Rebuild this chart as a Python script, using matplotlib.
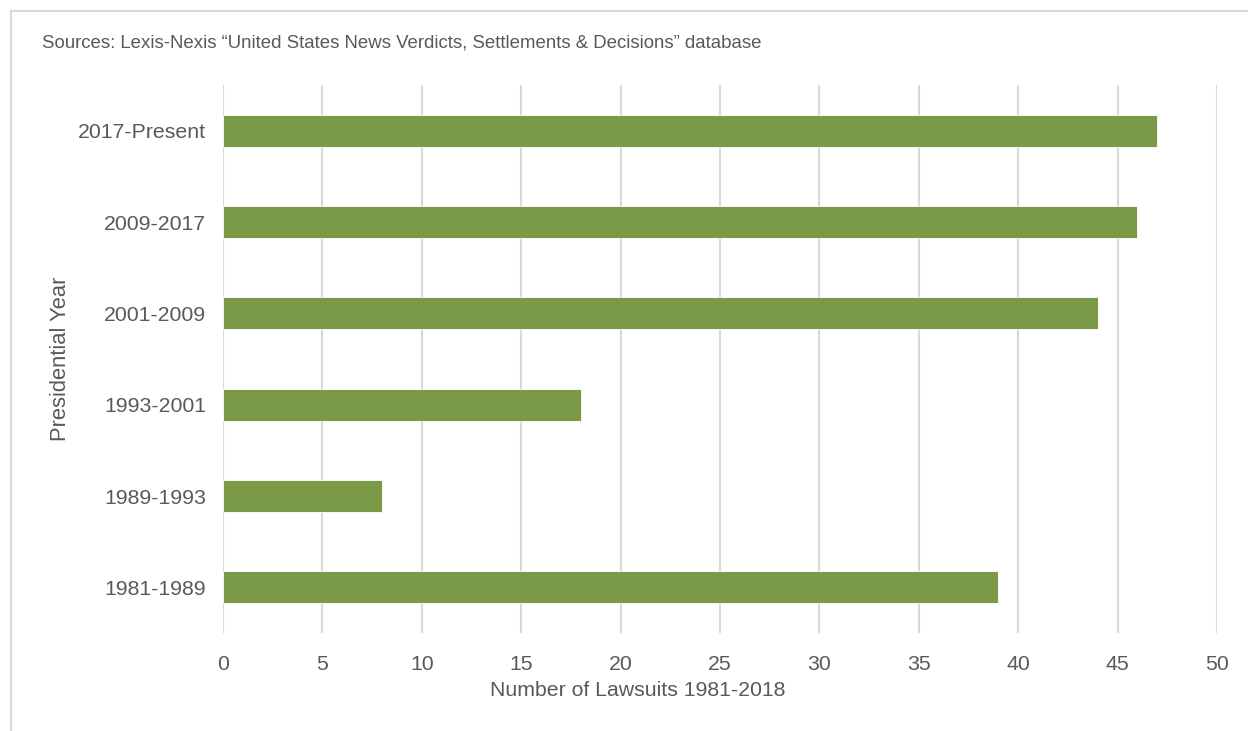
import matplotlib
matplotlib.use("Agg")
import matplotlib.pyplot as plt
from matplotlib.lines import Line2D

categories = ["1981-1989", "1989-1993", "1993-2001", "2001-2009", "2009-2017", "2017-Present"]
lawsuits = [39, 8, 18, 44, 46, 47]
xticks = [0, 5, 10, 15, 20, 25, 30, 35, 40, 45, 50]

plt.rcParams['font.family'] = ['Liberation Sans', 'DejaVu Sans']
txt = '#595959'
grid = '#D9D9D9'

fig = plt.figure(figsize=(12.48, 7.31), dpi=100)
ax = fig.add_axes([223/1248, 1-633/731, (1217-223)/1248, (633-85)/731])

ax.barh(range(len(categories)), lawsuits, height=0.35, color='#7A9A48',
        edgecolor='white', linewidth=0.6, zorder=3)
ax.set_xlim(0, 50)
ax.set_ylim(-0.5, len(categories)-0.5)
ax.set_xticks(xticks)
ax.set_yticks(range(len(categories)))
ax.set_yticklabels(categories)
ax.xaxis.grid(True, color=grid, linewidth=1.5, zorder=0)
ax.set_axisbelow(True)
for s in ax.spines.values():
    s.set_visible(False)
ax.tick_params(axis='both', length=0, labelsize=15.3, labelcolor=txt)
ax.tick_params(axis='x', pad=16)
ax.tick_params(axis='y', pad=12)
ax.set_xlabel("Number of Lawsuits 1981-2018", fontsize=15.3, color=txt, labelpad=5)
ax.xaxis.label.set_x((638-223)/994)
ax.set_ylabel("Presidential Year", fontsize=15.8, color=txt)
ax.yaxis.set_label_coords((71-223)/994, 0.5)

fig.text(42/1248, 1-43/731, "Sources: Lexis-Nexis \u201cUnited States News Verdicts, Settlements & Decisions\u201d database",
         fontsize=13.4, color=txt, va='center', ha='left')

fig.add_artist(Line2D([11/1248, 11/1248], [0, 1-11/731], transform=fig.transFigure, color=grid, linewidth=1.5))
fig.add_artist(Line2D([11/1248, 1], [1-11/731, 1-11/731], transform=fig.transFigure, color=grid, linewidth=1.5))

fig.savefig("out.png", dpi=100)
